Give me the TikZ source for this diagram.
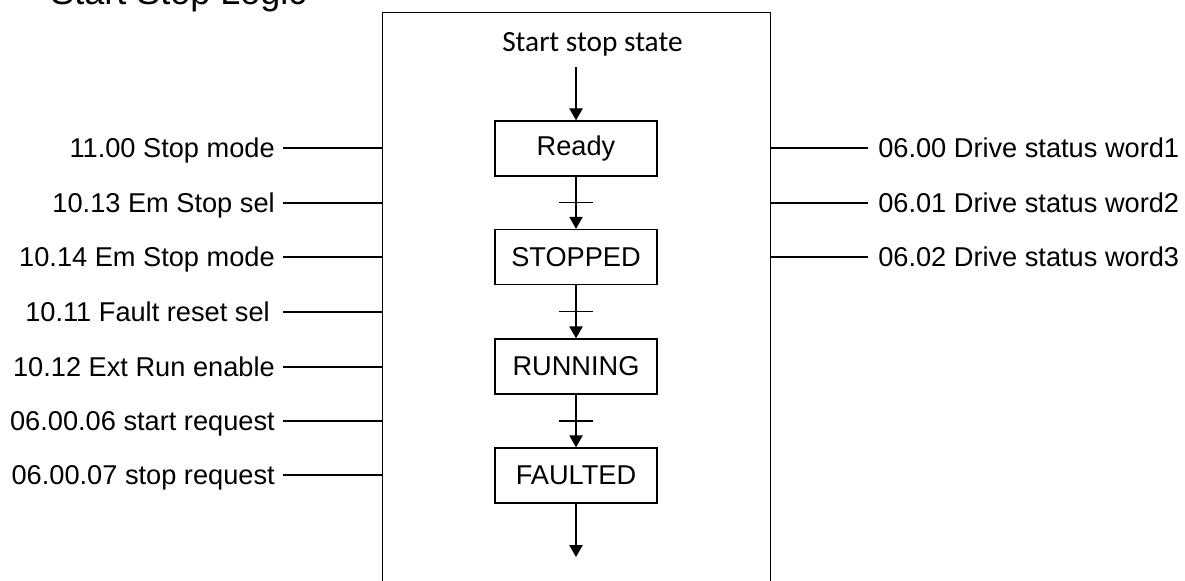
\documentclass[tikz,border=0pt]{standalone}
\usepackage{fontspec}
\setmainfont{Liberation Sans}
\newfontfamily\calib{Carlito}
\usetikzlibrary{arrows.meta,calc}
\begin{document}
\begin{tikzpicture}[x=0.75pt,y=-0.75pt,
  lbl/.style={font=\fontsize{20.4}{24}\selectfont, inner sep=0pt},
  statebox/.style={draw, line width=1pt, minimum width=121.5pt, minimum height=41.25pt, inner sep=0pt, font=\fontsize{20.4}{24}\selectfont},
  flow/.style={-{Triangle[width=10pt,length=9pt]}, line width=1pt},
  wire/.style={line width=1pt}]
\useasboundingbox (0,0) rectangle (1185,581);
\clip (0,0) rectangle (1185,581);
% title
\node[font=\fontsize{27}{32}\selectfont, anchor=base west, inner sep=0pt] (title) at (50,5) {Start Stop Logic};
% main block
\node[draw, line width=1.1pt, minimum width=291pt, minimum height=456pt, inner sep=0pt, anchor=north west] (main) at (382,12) {};
\node[font=\calib\fontsize{22}{26}\selectfont, anchor=base west, inner sep=0pt] (sst) at (502,52) {Start stop state};
\coordinate (s0) at (576,67);
% states
\node[statebox] (ready) at (576,148.5) {Ready};
\node[statebox] (stopped) at (576,257) {STOPPED};
\node[statebox] (running) at (576,366.5) {RUNNING};
\node[statebox] (faulted) at (576,475.5) {FAULTED};
\coordinate (e0) at (576,557);
\draw[flow] (s0) -- (ready.north);
\draw[flow] (ready) -- (stopped);
\draw[flow] (stopped) -- (running);
\draw[flow] (running) -- (faulted);
\draw[flow] (faulted) -- (e0);
\foreach \a/\b in {ready/stopped, stopped/running, running/faulted}
  \draw[wire] ($(\a.south)!0.5!(\b.north)$) +(-17,0) -- +(17,0);
% left inputs
\foreach \n/\y/\g/\t in {1/148/8/11.00 Stop mode, 2/203/8/10.13 Em Stop sel, 3/257/8/10.14 Em Stop mode, 4/312/13/10.11 Fault reset sel, 5/367/8/10.12 Ext Run enable, 6/421/8/06.00.06 start request, 7/475/8/06.00.07 stop request}{
  \coordinate (la\n) at (283,\y);
  \node[lbl, anchor=base east] (L\n) at ($(la\n)+(-\g,9.5)$) {\t};
  \draw[wire] (la\n) -- (la\n -| main.west);
}
% right outputs
\foreach \n/\y/\t in {1/148/06.00 Drive status word1, 2/203/06.01 Drive status word2, 3/257/06.02 Drive status word3}{
  \coordinate (ra\n) at (868,\y);
  \node[lbl, anchor=base west] (R\n) at ($(ra\n)+(10,9.5)$) {\t};
  \draw[wire] (ra\n -| main.east) -- (ra\n);
}
\end{tikzpicture}
\end{document}
